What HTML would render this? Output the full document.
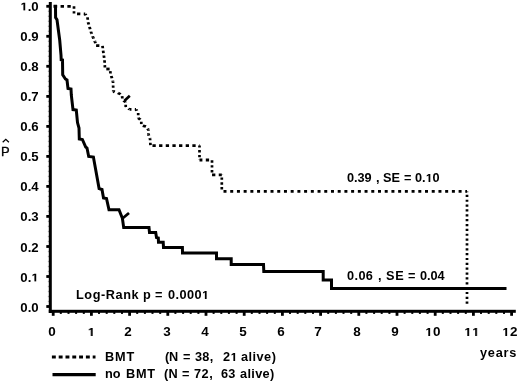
<!DOCTYPE html>
<html><head><meta charset="utf-8"><style>
html,body{margin:0;padding:0;background:#fff;width:520px;height:383px;overflow:hidden}
body{position:relative;font-family:"Liberation Sans",sans-serif;font-weight:bold;color:#000;-webkit-font-smoothing:antialiased}
.t,.yl,.xl,.ph{will-change:transform}
svg.main{position:absolute;left:0;top:0}
.t{position:absolute;font-size:12px;line-height:12px;white-space:pre;transform-origin:0 0}
.yl{position:absolute;right:481.7px;font-size:12px;line-height:12px;white-space:pre;transform:translateY(0.6px) scaleX(1.10);transform-origin:100% 0}
.xl{position:absolute;top:326px;width:0;font-size:12px;line-height:12px;white-space:pre;display:flex;justify-content:center;transform:scaleX(1.12)}
.hat{position:absolute;left:3px;top:136px;font-size:12px;font-weight:normal;line-height:12px}
.one{display:inline-block;width:0.556em;height:0.688em;vertical-align:baseline;fill:#000}
.ph{position:absolute;left:1.2px;top:145px;font-size:13px;font-weight:normal;line-height:13px;-webkit-text-stroke:0.3px #000}
</style></head><body>
<svg class="main" width="520" height="383" viewBox="0 0 520 383">
<rect x="48.8" y="2" width="3" height="311" fill="#000"/>
<rect x="48.8" y="309.8" width="467" height="3" fill="#000"/>
<rect x="46.3" y="305.1" width="3" height="2.8" fill="#000"/>
<rect x="46.3" y="275.1" width="3" height="2.8" fill="#000"/>
<rect x="46.3" y="245.1" width="3" height="2.8" fill="#000"/>
<rect x="46.3" y="215.0" width="3" height="2.8" fill="#000"/>
<rect x="46.3" y="185.0" width="3" height="2.8" fill="#000"/>
<rect x="46.3" y="155.0" width="3" height="2.8" fill="#000"/>
<rect x="46.3" y="125.0" width="3" height="2.8" fill="#000"/>
<rect x="46.3" y="95.0" width="3" height="2.8" fill="#000"/>
<rect x="46.3" y="64.9" width="3" height="2.8" fill="#000"/>
<rect x="46.3" y="34.9" width="3" height="2.8" fill="#000"/>
<rect x="46.3" y="4.9" width="3" height="2.8" fill="#000"/>
<rect x="47.9" y="300.8" width="1" height="1.4" fill="#888"/>
<rect x="47.9" y="295.8" width="1" height="1.4" fill="#888"/>
<rect x="47.9" y="290.8" width="1" height="1.4" fill="#888"/>
<rect x="47.9" y="285.8" width="1" height="1.4" fill="#888"/>
<rect x="47.9" y="280.8" width="1" height="1.4" fill="#888"/>
<rect x="47.9" y="270.8" width="1" height="1.4" fill="#888"/>
<rect x="47.9" y="265.8" width="1" height="1.4" fill="#888"/>
<rect x="47.9" y="260.8" width="1" height="1.4" fill="#888"/>
<rect x="47.9" y="255.8" width="1" height="1.4" fill="#888"/>
<rect x="47.9" y="250.8" width="1" height="1.4" fill="#888"/>
<rect x="47.9" y="240.8" width="1" height="1.4" fill="#888"/>
<rect x="47.9" y="235.8" width="1" height="1.4" fill="#888"/>
<rect x="47.9" y="230.8" width="1" height="1.4" fill="#888"/>
<rect x="47.9" y="225.7" width="1" height="1.4" fill="#888"/>
<rect x="47.9" y="220.7" width="1" height="1.4" fill="#888"/>
<rect x="47.9" y="210.7" width="1" height="1.4" fill="#888"/>
<rect x="47.9" y="205.7" width="1" height="1.4" fill="#888"/>
<rect x="47.9" y="200.7" width="1" height="1.4" fill="#888"/>
<rect x="47.9" y="195.7" width="1" height="1.4" fill="#888"/>
<rect x="47.9" y="190.7" width="1" height="1.4" fill="#888"/>
<rect x="47.9" y="180.7" width="1" height="1.4" fill="#888"/>
<rect x="47.9" y="175.7" width="1" height="1.4" fill="#888"/>
<rect x="47.9" y="170.7" width="1" height="1.4" fill="#888"/>
<rect x="47.9" y="165.7" width="1" height="1.4" fill="#888"/>
<rect x="47.9" y="160.7" width="1" height="1.4" fill="#888"/>
<rect x="47.9" y="150.7" width="1" height="1.4" fill="#888"/>
<rect x="47.9" y="145.7" width="1" height="1.4" fill="#888"/>
<rect x="47.9" y="140.7" width="1" height="1.4" fill="#888"/>
<rect x="47.9" y="135.7" width="1" height="1.4" fill="#888"/>
<rect x="47.9" y="130.7" width="1" height="1.4" fill="#888"/>
<rect x="47.9" y="120.7" width="1" height="1.4" fill="#888"/>
<rect x="47.9" y="115.7" width="1" height="1.4" fill="#888"/>
<rect x="47.9" y="110.7" width="1" height="1.4" fill="#888"/>
<rect x="47.9" y="105.7" width="1" height="1.4" fill="#888"/>
<rect x="47.9" y="100.7" width="1" height="1.4" fill="#888"/>
<rect x="47.9" y="90.7" width="1" height="1.4" fill="#888"/>
<rect x="47.9" y="85.7" width="1" height="1.4" fill="#888"/>
<rect x="47.9" y="80.7" width="1" height="1.4" fill="#888"/>
<rect x="47.9" y="75.6" width="1" height="1.4" fill="#888"/>
<rect x="47.9" y="70.6" width="1" height="1.4" fill="#888"/>
<rect x="47.9" y="60.6" width="1" height="1.4" fill="#888"/>
<rect x="47.9" y="55.6" width="1" height="1.4" fill="#888"/>
<rect x="47.9" y="50.6" width="1" height="1.4" fill="#888"/>
<rect x="47.9" y="45.6" width="1" height="1.4" fill="#888"/>
<rect x="47.9" y="40.6" width="1" height="1.4" fill="#888"/>
<rect x="47.9" y="30.6" width="1" height="1.4" fill="#888"/>
<rect x="47.9" y="25.6" width="1" height="1.4" fill="#888"/>
<rect x="47.9" y="20.6" width="1" height="1.4" fill="#888"/>
<rect x="47.9" y="15.6" width="1" height="1.4" fill="#888"/>
<rect x="47.9" y="10.6" width="1" height="1.4" fill="#888"/>
<rect x="51.8" y="312" width="2.8" height="3.8" fill="#000"/>
<rect x="90.0" y="312" width="2.8" height="3.8" fill="#000"/>
<rect x="128.2" y="312" width="2.8" height="3.8" fill="#000"/>
<rect x="166.4" y="312" width="2.8" height="3.8" fill="#000"/>
<rect x="204.6" y="312" width="2.8" height="3.8" fill="#000"/>
<rect x="242.8" y="312" width="2.8" height="3.8" fill="#000"/>
<rect x="281.0" y="312" width="2.8" height="3.8" fill="#000"/>
<rect x="319.2" y="312" width="2.8" height="3.8" fill="#000"/>
<rect x="357.4" y="312" width="2.8" height="3.8" fill="#000"/>
<rect x="395.6" y="312" width="2.8" height="3.8" fill="#000"/>
<rect x="433.8" y="312" width="2.8" height="3.8" fill="#000"/>
<rect x="472.0" y="312" width="2.8" height="3.8" fill="#000"/>
<rect x="510.2" y="312" width="2.8" height="3.8" fill="#000"/>
<rect x="59.8" y="312" width="2" height="1.9" fill="#000"/>
<rect x="67.5" y="312" width="2" height="1.9" fill="#000"/>
<rect x="75.1" y="312" width="2" height="1.9" fill="#000"/>
<rect x="82.8" y="312" width="2" height="1.9" fill="#000"/>
<rect x="98.0" y="312" width="2" height="1.9" fill="#000"/>
<rect x="105.7" y="312" width="2" height="1.9" fill="#000"/>
<rect x="113.3" y="312" width="2" height="1.9" fill="#000"/>
<rect x="121.0" y="312" width="2" height="1.9" fill="#000"/>
<rect x="136.2" y="312" width="2" height="1.9" fill="#000"/>
<rect x="143.9" y="312" width="2" height="1.9" fill="#000"/>
<rect x="151.5" y="312" width="2" height="1.9" fill="#000"/>
<rect x="159.2" y="312" width="2" height="1.9" fill="#000"/>
<rect x="174.4" y="312" width="2" height="1.9" fill="#000"/>
<rect x="182.1" y="312" width="2" height="1.9" fill="#000"/>
<rect x="189.7" y="312" width="2" height="1.9" fill="#000"/>
<rect x="197.4" y="312" width="2" height="1.9" fill="#000"/>
<rect x="212.6" y="312" width="2" height="1.9" fill="#000"/>
<rect x="220.3" y="312" width="2" height="1.9" fill="#000"/>
<rect x="227.9" y="312" width="2" height="1.9" fill="#000"/>
<rect x="235.6" y="312" width="2" height="1.9" fill="#000"/>
<rect x="250.8" y="312" width="2" height="1.9" fill="#000"/>
<rect x="258.5" y="312" width="2" height="1.9" fill="#000"/>
<rect x="266.1" y="312" width="2" height="1.9" fill="#000"/>
<rect x="273.8" y="312" width="2" height="1.9" fill="#000"/>
<rect x="289.0" y="312" width="2" height="1.9" fill="#000"/>
<rect x="296.7" y="312" width="2" height="1.9" fill="#000"/>
<rect x="304.3" y="312" width="2" height="1.9" fill="#000"/>
<rect x="312.0" y="312" width="2" height="1.9" fill="#000"/>
<rect x="327.2" y="312" width="2" height="1.9" fill="#000"/>
<rect x="334.9" y="312" width="2" height="1.9" fill="#000"/>
<rect x="342.5" y="312" width="2" height="1.9" fill="#000"/>
<rect x="350.2" y="312" width="2" height="1.9" fill="#000"/>
<rect x="365.4" y="312" width="2" height="1.9" fill="#000"/>
<rect x="373.1" y="312" width="2" height="1.9" fill="#000"/>
<rect x="380.7" y="312" width="2" height="1.9" fill="#000"/>
<rect x="388.4" y="312" width="2" height="1.9" fill="#000"/>
<rect x="403.6" y="312" width="2" height="1.9" fill="#000"/>
<rect x="411.3" y="312" width="2" height="1.9" fill="#000"/>
<rect x="418.9" y="312" width="2" height="1.9" fill="#000"/>
<rect x="426.6" y="312" width="2" height="1.9" fill="#000"/>
<rect x="441.8" y="312" width="2" height="1.9" fill="#000"/>
<rect x="449.5" y="312" width="2" height="1.9" fill="#000"/>
<rect x="457.1" y="312" width="2" height="1.9" fill="#000"/>
<rect x="464.8" y="312" width="2" height="1.9" fill="#000"/>
<rect x="480.0" y="312" width="2" height="1.9" fill="#000"/>
<rect x="487.7" y="312" width="2" height="1.9" fill="#000"/>
<rect x="495.3" y="312" width="2" height="1.9" fill="#000"/>
<rect x="503.0" y="312" width="2" height="1.9" fill="#000"/>
<polyline points="53.6,6.3 55.5,6.3 55.6,17.5 57.0,19.8 59.7,40.0 61.0,55.0 61.2,59.7 62.5,60.0 62.7,74.8 65.4,79.0 67.0,80.0 68.0,88.4 71.0,89.0 71.3,95.0 73.0,109.6 76.3,110.0 77.5,122.6 79.0,128.0 79.3,139.0 82.4,139.5 85.7,147.0 87.0,148.0 88.7,156.5 93.4,157.0 99.1,188.6 102.0,189.5 103.5,198.0 106.5,198.5 109.0,209.8 119.0,209.8 122.4,218.3 123.7,227.6 149.0,227.6 149.5,232.4 155.7,232.4 156.5,237.6 158.3,238.0 158.5,242.2 163.2,242.2 163.5,247.4 182.4,247.4 182.5,252.9 216.5,252.9 216.5,258.8 231.2,258.8 231.2,264.4 263.5,264.5 263.8,271.6 323.2,271.6 323.2,280.0 331.5,280.0 331.5,288.5 506.5,288.5" fill="none" stroke="#000" stroke-width="3" stroke-linejoin="miter"/>
<polyline points="2.7,142.2 5.8,139.3 8.9,142.2" fill="none" stroke="#000" stroke-width="1.3"/>
<line x1="122.4" y1="218.5" x2="129" y2="213" stroke="#000" stroke-width="2.8"/>
<line x1="124.5" y1="100.8" x2="129.8" y2="95.8" stroke="#000" stroke-width="2.6"/>
<g transform="scale(1,0.72)" fill="none" stroke="#000"><path d="M53.50,8.75L74.00,8.75" stroke-width="3.90" stroke-dasharray="3.400 3.380" stroke-dashoffset="6.480"/><path d="M74.00,8.75L74.00,19.17" stroke-width="2.70" stroke-dasharray="3.3 3.400" stroke-dashoffset="6.640"/><path d="M74.00,19.17L85.20,19.44" stroke-width="3.88" stroke-dasharray="3.3 3.400" stroke-dashoffset="3.657"/><path d="M85.20,19.44L87.50,24.17" stroke-width="3.05" stroke-dasharray="3.3 3.400" stroke-dashoffset="1.460"/><path d="M87.50,24.17L88.00,30.56" stroke-width="2.76" stroke-dasharray="3.3 3.400" stroke-dashoffset="0.013"/><path d="M88.00,30.56L89.20,35.83" stroke-width="2.87" stroke-dasharray="3.3 3.400" stroke-dashoffset="6.421"/><path d="M89.20,35.83L90.30,41.39" stroke-width="2.85" stroke-dasharray="3.3 3.400" stroke-dashoffset="5.134"/><path d="M90.30,41.39L91.50,46.53" stroke-width="2.88" stroke-dasharray="3.3 3.400" stroke-dashoffset="4.097"/><path d="M91.50,46.53L93.20,52.36" stroke-width="2.92" stroke-dasharray="3.3 3.400" stroke-dashoffset="2.674"/><path d="M93.20,52.36L95.00,57.78" stroke-width="2.95" stroke-dasharray="3.3 3.400" stroke-dashoffset="2.050"/><path d="M95.00,57.78L96.10,63.33" stroke-width="2.85" stroke-dasharray="3.3 3.400" stroke-dashoffset="1.058"/><path d="M96.10,63.33L102.50,63.47" stroke-width="3.88" stroke-dasharray="3.3 3.400" stroke-dashoffset="0.021"/><path d="M102.50,63.47L103.00,69.44" stroke-width="2.76" stroke-dasharray="3.3 3.400" stroke-dashoffset="6.423"/><path d="M103.00,69.44L104.50,83.33" stroke-width="2.78" stroke-dasharray="3.3 3.400" stroke-dashoffset="5.716"/><path d="M104.50,83.33L105.00,95.83" stroke-width="2.73" stroke-dasharray="3.3 3.400" stroke-dashoffset="6.286"/><path d="M105.00,95.83L110.00,95.83" stroke-width="3.90" stroke-dasharray="3.3 3.400" stroke-dashoffset="5.396"/><path d="M110.00,95.83L110.50,102.08" stroke-width="2.76" stroke-dasharray="3.3 3.400" stroke-dashoffset="3.696"/><path d="M110.50,102.08L113.00,113.19" stroke-width="2.87" stroke-dasharray="3.3 3.400" stroke-dashoffset="3.266"/><path d="M113.00,113.19L113.30,127.08" stroke-width="2.72" stroke-dasharray="3.3 3.400" stroke-dashoffset="1.255"/><path d="M113.30,127.08L118.00,129.17" stroke-width="3.58" stroke-dasharray="3.3 3.400" stroke-dashoffset="1.747"/><path d="M118.00,129.17L122.00,131.94" stroke-width="3.44" stroke-dasharray="3.3 3.400" stroke-dashoffset="0.188"/><path d="M122.00,131.94L122.50,138.89" stroke-width="2.75" stroke-dasharray="3.3 3.400" stroke-dashoffset="5.058"/><path d="M122.50,138.89L125.70,141.67" stroke-width="3.35" stroke-dasharray="3.3 3.400" stroke-dashoffset="5.320"/><path d="M125.70,141.67L125.70,148.61" stroke-width="2.70" stroke-dasharray="3.3 3.400" stroke-dashoffset="2.858"/><path d="M125.70,148.61L129.60,151.81" stroke-width="3.38" stroke-dasharray="3.3 3.400" stroke-dashoffset="3.102"/><path d="M129.60,151.81L136.00,151.81" stroke-width="3.90" stroke-dasharray="3.3 3.400" stroke-dashoffset="1.443"/><path d="M136.00,151.81L138.20,156.94" stroke-width="3.01" stroke-dasharray="3.3 3.400" stroke-dashoffset="1.143"/><path d="M138.20,156.94L138.20,163.89" stroke-width="2.70" stroke-dasharray="3.3 3.400" stroke-dashoffset="0.033"/><path d="M138.20,163.89L141.30,167.08" stroke-width="3.29" stroke-dasharray="3.3 3.400" stroke-dashoffset="0.278"/><path d="M141.30,167.08L141.30,174.17" stroke-width="2.70" stroke-dasharray="3.3 3.400" stroke-dashoffset="4.729"/><path d="M141.30,174.17L146.00,175.69" stroke-width="3.66" stroke-dasharray="3.3 3.400" stroke-dashoffset="5.112"/><path d="M146.00,175.69L148.40,180.14" stroke-width="3.08" stroke-dasharray="3.3 3.400" stroke-dashoffset="3.354"/><path d="M148.40,180.14L148.40,186.67" stroke-width="2.70" stroke-dasharray="3.3 3.400" stroke-dashoffset="1.706"/><path d="M148.40,186.67L150.00,192.08" stroke-width="2.92" stroke-dasharray="3.3 3.400" stroke-dashoffset="1.533"/><path d="M150.00,192.08L150.50,202.22" stroke-width="2.74" stroke-dasharray="3.3 3.400" stroke-dashoffset="0.481"/><path d="M150.50,202.22L199.50,202.22" stroke-width="3.90" stroke-dasharray="3.300 3.350" stroke-dashoffset="4.700"/><path d="M199.50,202.22L199.50,222.22" stroke-width="2.70" stroke-dasharray="3.3 3.400" stroke-dashoffset="0.500"/><path d="M199.50,222.22L212.00,222.22" stroke-width="3.90" stroke-dasharray="3.3 3.400" stroke-dashoffset="0.400"/><path d="M212.00,222.22L212.00,242.78" stroke-width="2.70" stroke-dasharray="3.3 3.400" stroke-dashoffset="6.200"/><path d="M212.00,242.78L221.80,242.78" stroke-width="3.90" stroke-dasharray="3.3 3.400" stroke-dashoffset="6.656"/><path d="M221.80,242.78L221.80,265.83" stroke-width="2.70" stroke-dasharray="3.3 3.400" stroke-dashoffset="3.056"/><path d="M221.80,265.83L467.00,265.83" stroke-width="3.90" stroke-dasharray="3.000 3.717" stroke-dashoffset="5.017"/><path d="M467.00,265.83L467.00,422.22" stroke-width="2.70" stroke-dasharray="3.056 3.687" stroke-dashoffset="2.021"/></g>
<line x1="51.9" y1="357.1" x2="95.5" y2="357.1" stroke="#000" stroke-width="3" stroke-dasharray="3.9 2.9"/>
<line x1="52.5" y1="374.6" x2="95.7" y2="374.6" stroke="#000" stroke-width="3.1"/>
</svg>
<div class="yl" style="top:300.5px">0.0</div><div class="yl" style="top:270.5px">0.<svg class="one" viewBox="0 0 1139 1409"><path d="M478,1409L759,1409L759,0L500,0L180,215L180,440L478,250Z"/></svg></div><div class="yl" style="top:240.5px">0.2</div><div class="yl" style="top:210.4px">0.3</div><div class="yl" style="top:180.4px">0.4</div><div class="yl" style="top:150.4px">0.5</div><div class="yl" style="top:120.4px">0.6</div><div class="yl" style="top:90.4px">0.7</div><div class="yl" style="top:60.3px">0.8</div><div class="yl" style="top:30.3px">0.9</div><div class="yl" style="top:0.3px"><svg class="one" viewBox="0 0 1139 1409"><path d="M478,1409L759,1409L759,0L500,0L180,215L180,440L478,250Z"/></svg>.0</div><div class="xl" style="left:51.7px"><span>0</span></div><div class="xl" style="left:90.7px"><span><svg class="one" viewBox="0 0 1139 1409"><path d="M478,1409L759,1409L759,0L500,0L180,215L180,440L478,250Z"/></svg></span></div><div class="xl" style="left:128.4px"><span>2</span></div><div class="xl" style="left:166.5px"><span>3</span></div><div class="xl" style="left:204.7px"><span>4</span></div><div class="xl" style="left:243.0px"><span>5</span></div><div class="xl" style="left:281.4px"><span>6</span></div><div class="xl" style="left:317.9px"><span>7</span></div><div class="xl" style="left:356.7px"><span>8</span></div><div class="xl" style="left:395.2px"><span>9</span></div><div class="xl" style="left:433.2px"><span><svg class="one" viewBox="0 0 1139 1409"><path d="M478,1409L759,1409L759,0L500,0L180,215L180,440L478,250Z"/></svg>0</span></div><div class="xl" style="left:472.4px"><span><svg class="one" viewBox="0 0 1139 1409"><path d="M478,1409L759,1409L759,0L500,0L180,215L180,440L478,250Z"/></svg><svg class="one" viewBox="0 0 1139 1409"><path d="M478,1409L759,1409L759,0L500,0L180,215L180,440L478,250Z"/></svg></span></div><div class="xl" style="left:509.5px"><span><svg class="one" viewBox="0 0 1139 1409"><path d="M478,1409L759,1409L759,0L500,0L180,215L180,440L478,250Z"/></svg>2</span></div>
<div class="t" style="left:75.61px;top:289.00px;letter-spacing:0.538px;transform:scaleX(1.060)">Log-Rank</div>
<div class="t" style="left:142.71px;top:289.00px;letter-spacing:0.000px;transform:scaleX(1.060)">p</div>
<div class="t" style="left:155.34px;top:289.00px;letter-spacing:0.000px;transform:scaleX(1.060)">=</div>
<div class="t" style="left:167.93px;top:289.00px;letter-spacing:0.438px;transform:scaleX(1.060)">0.000<svg class="one" viewBox="0 0 1139 1409"><path d="M478,1409L759,1409L759,0L500,0L180,215L180,440L478,250Z"/></svg></div>
<div class="t" style="left:346.89px;top:172.00px;letter-spacing:-0.058px;transform:scaleX(1.060)">0.39</div>
<div class="t" style="left:375.58px;top:172.00px;letter-spacing:0.000px;transform:scaleX(1.060)">,</div>
<div class="t" style="left:383.31px;top:172.00px;letter-spacing:0.082px;transform:scaleX(1.060)">SE</div>
<div class="t" style="left:403.84px;top:172.00px;letter-spacing:0.000px;transform:scaleX(1.060)">=</div>
<div class="t" style="left:415.35px;top:172.00px;letter-spacing:-0.035px;transform:scaleX(1.060)">0.<svg class="one" viewBox="0 0 1139 1409"><path d="M478,1409L759,1409L759,0L500,0L180,215L180,440L478,250Z"/></svg>0</div>
<div class="t" style="left:347.47px;top:270.00px;letter-spacing:0.364px;transform:scaleX(1.060)">0.06</div>
<div class="t" style="left:377.54px;top:270.00px;letter-spacing:0.000px;transform:scaleX(1.060)">,</div>
<div class="t" style="left:385.55px;top:270.00px;letter-spacing:0.691px;transform:scaleX(1.060)">SE</div>
<div class="t" style="left:407.80px;top:270.00px;letter-spacing:0.000px;transform:scaleX(1.060)">=</div>
<div class="t" style="left:420.47px;top:270.00px;letter-spacing:-0.042px;transform:scaleX(1.060)">0.04</div>
<div class="t" style="left:104.53px;top:351.00px;letter-spacing:0.795px;transform:scaleX(1.060)">BMT</div>
<div class="t" style="left:165.11px;top:351.00px;letter-spacing:-0.282px;transform:scaleX(1.060)">(N</div>
<div class="t" style="left:183.22px;top:351.00px;letter-spacing:0.000px;transform:scaleX(1.060)">=</div>
<div class="t" style="left:195.22px;top:351.00px;letter-spacing:0.263px;transform:scaleX(1.060)">38,</div>
<div class="t" style="left:222.69px;top:351.00px;letter-spacing:0.540px;transform:scaleX(1.060)">2<svg class="one" viewBox="0 0 1139 1409"><path d="M478,1409L759,1409L759,0L500,0L180,215L180,440L478,250Z"/></svg></div>
<div class="t" style="left:240.71px;top:351.00px;letter-spacing:0.446px;transform:scaleX(1.060)">alive)</div>
<div class="t" style="left:105.05px;top:368.00px;letter-spacing:0.099px;transform:scaleX(1.060)">no</div>
<div class="t" style="left:126.07px;top:368.00px;letter-spacing:0.690px;transform:scaleX(1.060)">BMT</div>
<div class="t" style="left:163.69px;top:368.00px;letter-spacing:0.236px;transform:scaleX(1.060)">(N</div>
<div class="t" style="left:182.26px;top:368.00px;letter-spacing:0.000px;transform:scaleX(1.060)">=</div>
<div class="t" style="left:194.11px;top:368.00px;letter-spacing:0.481px;transform:scaleX(1.060)">72,</div>
<div class="t" style="left:220.71px;top:368.00px;letter-spacing:0.105px;transform:scaleX(1.060)">63</div>
<div class="t" style="left:239.81px;top:368.00px;letter-spacing:0.330px;transform:scaleX(1.060)">alive)</div>
<div class="t" style="left:480.41px;top:347.00px;letter-spacing:0.734px;transform:scaleX(1.060)">years</div>

<div class="ph">P</div>
</body></html>
